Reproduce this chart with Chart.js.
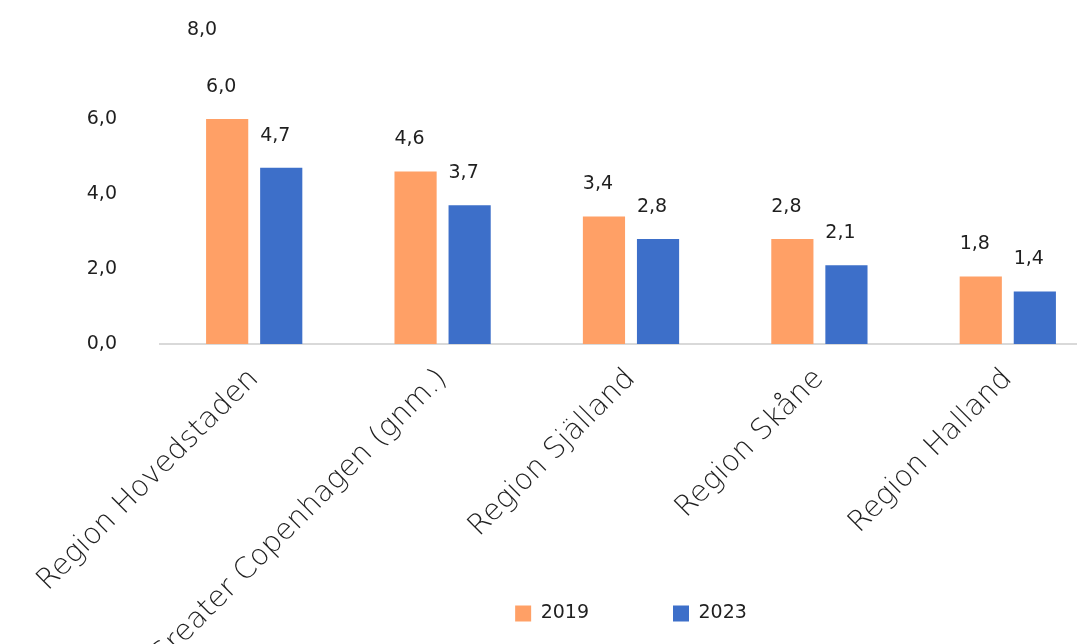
<!DOCTYPE html>
<html>
<head>
<meta charset="utf-8">
<script src="https://cdn.jsdelivr.net/npm/chart.js@4.4.1/dist/chart.umd.min.js"></script>
<style>
  html, body { margin: 0; padding: 0; background: #fff; overflow: hidden; }
  #wrap { width: 1102px; height: 644px; position: relative; }
</style>
</head>
<body>
<div id="wrap"><canvas id="regionChart"></canvas></div>
<script>
const regioner = ['Region Hovedstaden', 'Greater Copenhagen (gnm.)', 'Region Själland', 'Region Skåne', 'Region Halland'];
const vaerdier2019 = [6.0, 4.6, 3.4, 2.8, 1.8];
const vaerdier2023 = [4.7, 3.7, 2.8, 2.1, 1.4];
const yTicks = [0, 2, 4, 6, 8];
const orange = '#FFA066';
const blaa = '#3D6FC9';
const tekstFarve = '#1f1f1f';
const skrift = '"DejaVu Sans", sans-serif';

function formatKomma(v) {
    return v.toFixed(1).replace('.', ',');
}

// tal over soejlerne + den loese 8,0 oeverst
const vaerdiLabels = {
    id: 'vaerdiLabels',
    afterLayout(chart) {
        // lad x-aksens tekster loebe ned over legend-omraadet uden at blive klippet
        chart.scales.x.bottom = chart.height;
    },
    afterDatasetsDraw(chart) {
        const ctx = chart.ctx;
        ctx.save();
        ctx.font = '19px ' + skrift;
        ctx.fillStyle = tekstFarve;
        ctx.textAlign = 'center';
        ctx.textBaseline = 'middle';
        chart.data.datasets.forEach((ds, i) => {
            const meta = chart.getDatasetMeta(i);
            meta.data.forEach((bar, j) => {
                ctx.fillText(formatKomma(ds.data[j]), bar.x - 6, bar.y - 32);
            });
        });
        const y = chart.scales.y;
        const top = yTicks[yTicks.length - 1];
        ctx.fillText(formatKomma(top), chart.chartArea.left + 42, y.getPixelForValue(top) - 14);
        ctx.restore();
    }
};

const ctx = document.getElementById('regionChart').getContext('2d');
window.myBar = new Chart(ctx, {
    type: 'bar',
    data: {
        labels: regioner,
        datasets: [
            { label: '2019', data: vaerdier2019, backgroundColor: orange, categoryPercentage: 0.574, barPercentage: 0.78 },
            { label: '2023', data: vaerdier2023, backgroundColor: blaa, categoryPercentage: 0.574, barPercentage: 0.78 }
        ]
    },
    options: {
        responsive: true,
        maintainAspectRatio: false,
        animation: false,
        layout: { padding: { top: 44, left: 0, right: 0, bottom: 11 } },
        scales: {
            x: {
                grid: { display: false, drawTicks: false },
                border: { display: true, color: '#d9d9d9', width: 2 },
                ticks: {
                    autoSkip: false,
                    minRotation: 45,
                    maxRotation: 45,
                    padding: 18,
                    color: tekstFarve,
                    font: { family: skrift, size: 29, weight: '200' }
                },
                afterFit: function(scale) { scale.height = 176; }
            },
            y: {
                min: 0,
                max: 8,
                grid: { display: false, drawTicks: false },
                border: { display: false },
                ticks: {
                    stepSize: 2,
                    padding: 43,
                    color: tekstFarve,
                    font: { family: skrift, size: 19 },
                    callback: function(v) { return v === 8 ? '' : formatKomma(v); }
                },
                afterFit: function(scale) {
                    scale.width = 160;
                    scale.paddingTop = 0;
                    scale.paddingBottom = 0;
                }
            }
        },
        plugins: {
            legend: {
                position: 'bottom',
                fullSize: false,
                labels: {
                    boxWidth: 16,
                    boxHeight: 16,
                    padding: 84,
                    color: tekstFarve,
                    font: { family: skrift, size: 19 }
                }
            },
            tooltip: { enabled: false }
        }
    },
    plugins: [vaerdiLabels]
});
</script>
</body>
</html>
